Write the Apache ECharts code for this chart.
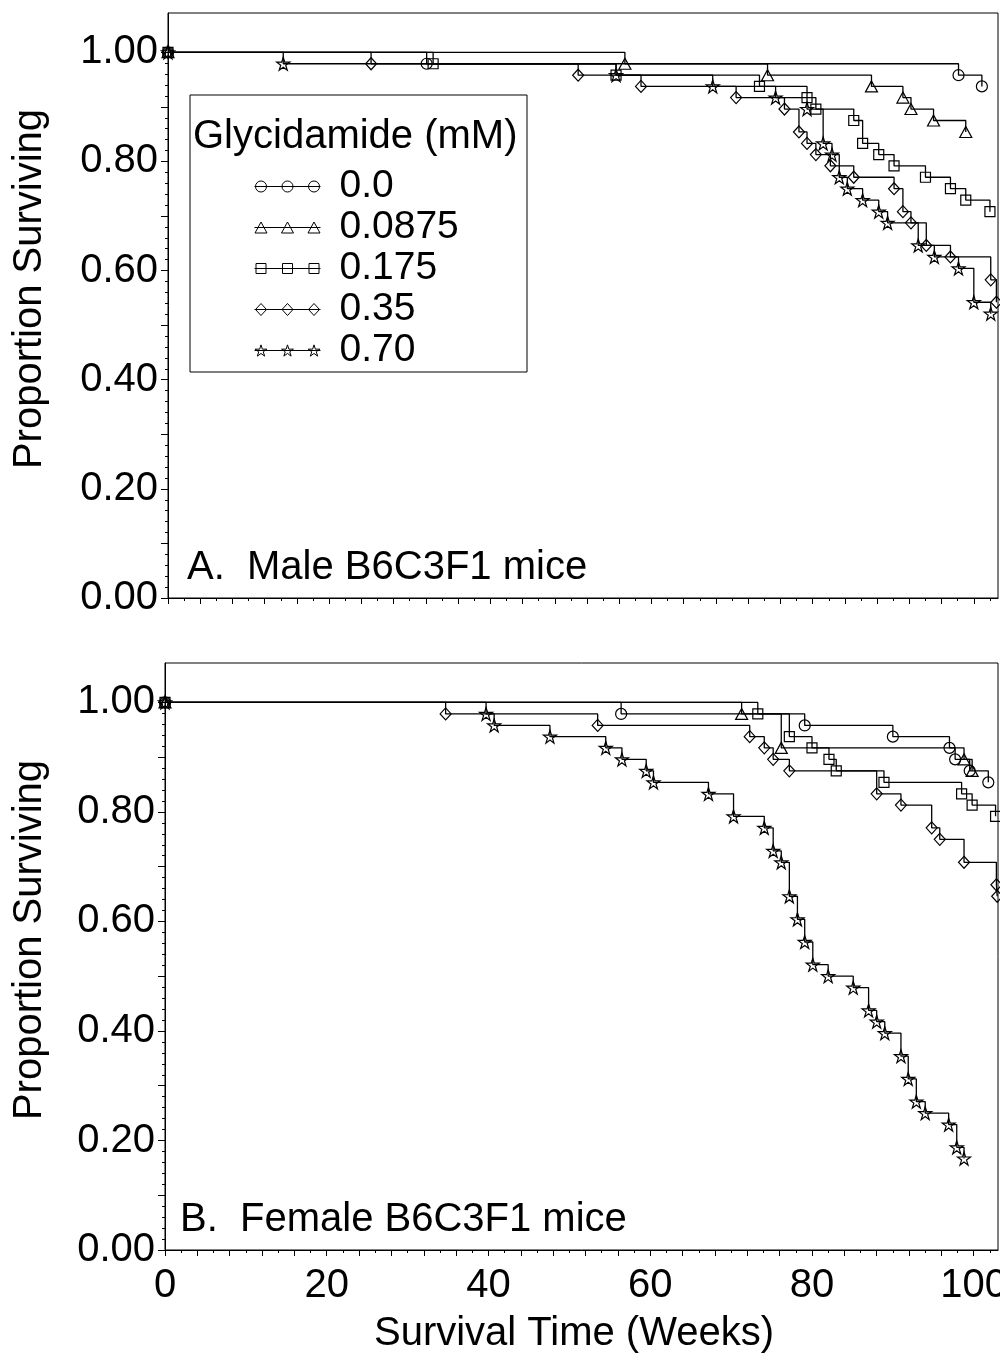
<!DOCTYPE html>
<html><head><meta charset="utf-8">
<script src="https://cdn.jsdelivr.net/npm/echarts@6/dist/echarts.min.js"></script>
<style>html,body{margin:0;padding:0;background:#fff}#c{width:1000px;height:1357px}</style>
</head><body><div id="c"></div><script>
// ---- labels ----
const doseLabels = ['0.0', '0.0875', '0.175', '0.35', '0.70'];
const xTickLabels = [0, 20, 40, 60, 80, 100];
const yTickLabels = [0, 0.2, 0.4, 0.6, 0.8, 1.0];

// ---- A. Male B6C3F1 mice ----
const male_0_weeks = [0, 32.1, 98.1, 101.0];
const male_0_surv = [1, 0.979, 0.958, 0.9375];
const male_00875_weeks = [0, 56.7, 74.4, 87.3, 91.2, 92.2, 95.0, 99.0];
const male_00875_surv = [1, 0.979, 0.958, 0.9375, 0.917, 0.896, 0.875, 0.854];
const male_0175_weeks = [0, 32.9, 55.6, 73.4, 79.3, 80.4, 85.1, 86.2, 88.2, 90.1, 94.0, 97.1, 99.0, 102.0];
const male_0175_surv = [1, 0.979, 0.958, 0.9375, 0.917, 0.896, 0.875, 0.833, 0.8125, 0.792, 0.771, 0.75, 0.729, 0.708];
const male_035_weeks = [0, 25.2, 50.9, 58.7, 70.5, 76.5, 78.3, 79.3, 80.4, 82.2, 85.1, 90.1, 91.2, 92.2, 94.1, 97.1, 102.1, 102.8];
const male_035_surv = [1, 0.979, 0.958, 0.9375, 0.917, 0.896, 0.854, 0.833, 0.8125, 0.792, 0.771, 0.75, 0.708, 0.6875, 0.646, 0.625, 0.583, 0.542];
const male_070_weeks = [0, 14.3, 55.6, 67.6, 75.4, 79.3, 81.3, 82.4, 83.3, 84.3, 86.2, 88.2, 89.3, 93.1, 95.1, 98.1, 100.0, 102.1];
const male_070_surv = [1, 0.979, 0.958, 0.9375, 0.917, 0.896, 0.833, 0.8125, 0.771, 0.75, 0.729, 0.708, 0.6875, 0.646, 0.625, 0.604, 0.542, 0.521];

// ---- B. Female B6C3F1 mice ----
const female_0_weeks = [0, 56.4, 79.1, 90.0, 97.0, 97.7, 99.5, 101.8];
const female_0_surv = [1, 0.979, 0.958, 0.9375, 0.917, 0.896, 0.875, 0.854];
const female_00875_weeks = [0, 71.3, 76.2, 98.8, 99.8];
const female_00875_surv = [1, 0.979, 0.917, 0.896, 0.875];
const female_0175_weeks = [0, 73.3, 77.2, 80.0, 82.1, 83.0, 88.9, 98.5, 99.8, 102.7];
const female_0175_surv = [1, 0.979, 0.9375, 0.917, 0.896, 0.875, 0.854, 0.833, 0.8125, 0.792];
const female_035_weeks = [0, 34.7, 53.5, 72.3, 74.1, 75.2, 77.2, 88.0, 91.0, 94.8, 95.8, 98.8, 102.8, 102.9];
const female_035_surv = [1, 0.979, 0.958, 0.9375, 0.917, 0.896, 0.875, 0.833, 0.8125, 0.771, 0.75, 0.708, 0.667, 0.646];
const female_070_weeks = [0, 39.7, 40.7, 47.6, 54.5, 56.5, 59.5, 60.4, 67.2, 70.3, 74.1, 75.2, 76.2, 77.2, 78.2, 79.1, 80.1, 82.0, 85.1, 87.0, 88.0, 89.0, 91.0, 91.9, 92.9, 94.0, 96.9, 97.9, 98.8];
const female_070_surv = [1, 0.979, 0.958, 0.9375, 0.917, 0.896, 0.875, 0.854, 0.833, 0.792, 0.771, 0.729, 0.708, 0.646, 0.604, 0.5625, 0.521, 0.5, 0.479, 0.4375, 0.417, 0.396, 0.354, 0.3125, 0.271, 0.25, 0.229, 0.1875, 0.167];

const maleCurves = [[male_0_weeks, male_0_surv], [male_00875_weeks, male_00875_surv], [male_0175_weeks, male_0175_surv], [male_035_weeks, male_035_surv], [male_070_weeks, male_070_surv]];
const femaleCurves = [[female_0_weeks, female_0_surv], [female_00875_weeks, female_00875_surv], [female_0175_weeks, female_0175_surv], [female_035_weeks, female_035_surv], [female_070_weeks, female_070_surv]];

// ---- styling ----
const FONT = 'Liberation Sans, Arial, Helvetica, sans-serif';
const STAR = 'path://M0,-10L2.245,-3.09L9.511,-3.09L3.633,1.18L5.878,8.09L0,3.82L-5.878,8.09L-3.633,1.18L-9.511,-3.09L-2.245,-3.09Z';
const symbols = ['circle', 'triangle', 'rect', 'diamond', STAR];
const symbolSizes = [11, [12, 11], 10, [11, 12], 13];

function iconShape(kind, cx) {
  if (kind === 0) return `M${cx-5.5},7A5.5,5.5,0,1,0,${cx+5.5},7A5.5,5.5,0,1,0,${cx-5.5},7Z`;
  if (kind === 1) return `M${cx-6},12.5L${cx},1.5L${cx+6},12.5Z`;
  if (kind === 2) return `M${cx-5},2L${cx+5},2L${cx+5},12L${cx-5},12Z`;
  if (kind === 3) return `M${cx},1L${cx+5.5},7L${cx},13L${cx-5.5},7Z`;
  const pts = [[0,-10],[2.245,-3.09],[9.511,-3.09],[3.633,1.18],[5.878,8.09],[0,3.82],[-5.878,8.09],[-3.633,1.18],[-9.511,-3.09],[-2.245,-3.09]];
  return 'M' + pts.map(p => `${(cx + p[0]*0.62).toFixed(2)},${(7.6 + p[1]*0.62).toFixed(2)}`).join('L') + 'Z';
}
function legendIcon(kind) {
  return 'path://M0,7L66,7' + [6.5, 33, 59.5].map(cx => iconShape(kind, cx)).join('');
}

const grids = [
  { left: 168, right: 2, top: 13, height: 585 },
  { left: 165, right: 2, top: 663, height: 587 }
];
const X_MAX = 103, Y_MAX = 1.072;
const xMajor = [], xMinor = [], yMajor = [], yMinor = [];
for (let w = 0; w <= 102; w += 2) (w % 4 === 0 ? xMajor : xMinor).push(w);
for (let k = 0; k <= 50; k++) (k % 5 === 0 ? yMajor : yMinor).push(+(k * 0.02).toFixed(2));

const xAxes = [], yAxes = [];
grids.forEach((g, gi) => {
  xAxes.push({
    type: 'value', gridIndex: gi, min: 0, max: X_MAX, position: 'bottom',
    axisLine: { show: true, onZero: false, lineStyle: { color: '#000', width: 1 } },
    axisTick: { show: true, customValues: xMajor, length: 6, lineStyle: { color: '#000' } },
    axisLabel: { show: gi === 1, customValues: xTickLabels, fontSize: 40, fontFamily: FONT, color: '#000', margin: 16 },
    splitLine: { show: false }
  });
  xAxes.push({
    type: 'value', gridIndex: gi, min: 0, max: X_MAX, position: 'bottom',
    axisLine: { show: false },
    axisTick: { show: true, customValues: xMinor, length: 3, lineStyle: { color: '#000' } },
    axisLabel: { show: false }, splitLine: { show: false }
  });
  yAxes.push({
    type: 'value', gridIndex: gi, min: 0, max: Y_MAX, position: 'left',
    axisLine: { show: true, onZero: false, lineStyle: { color: '#000', width: 1 } },
    axisTick: { show: true, customValues: yMajor, length: 7, lineStyle: { color: '#000' } },
    axisLabel: { show: true, customValues: yTickLabels, formatter: v => v.toFixed(2), fontSize: 40, fontFamily: FONT, color: '#000', margin: 10 },
    splitLine: { show: false }
  });
  yAxes.push({
    type: 'value', gridIndex: gi, min: 0, max: Y_MAX, position: 'left',
    axisLine: { show: false },
    axisTick: { show: true, customValues: yMinor, length: 3, lineStyle: { color: '#000' } },
    axisLabel: { show: false }, splitLine: { show: false }
  });
});

const series = [];
[maleCurves, femaleCurves].forEach((curves, gi) => {
  curves.forEach((c, i) => {
    series.push({
      name: doseLabels[i], type: 'line', step: 'end',
      xAxisIndex: gi * 2, yAxisIndex: gi * 2,
      data: c[0].map((w, j) => [w, c[1][j]]),
      symbol: symbols[i], symbolSize: symbolSizes[i], showAllSymbol: true,
      lineStyle: { color: '#000', width: 1.3 },
      itemStyle: { color: 'rgba(0,0,0,0)', borderColor: '#000', borderWidth: 1.2 },
      emphasis: { disabled: true }, animation: false, z: 3
    });
  });
});

const chart = echarts.init(document.getElementById('c'), null, { renderer: 'canvas' });
chart.setOption({
  backgroundColor: '#fff',
  animation: false,
  grid: grids.map(g => Object.assign({ show: true, borderColor: '#000', borderWidth: 1, backgroundColor: 'rgba(0,0,0,0)', outerBoundsMode: 'none', containLabel: false }, g)),
  xAxis: xAxes,
  yAxis: yAxes,
  legend: {
    orient: 'vertical', left: 254, top: 166, padding: 0,
    itemWidth: 66, itemHeight: 14, itemGap: 0, selectedMode: false,
    data: doseLabels.map((n, i) => ({ name: n, icon: legendIcon(i) })),
    itemStyle: { color: 'rgba(0,0,0,0)', borderColor: '#000', borderWidth: 1 },
    textStyle: { fontSize: 39, lineHeight: 41, color: '#000', fontFamily: FONT, padding: [0, 0, 0, 14] }
  },
  graphic: [
    { type: 'rect', shape: { x: 190, y: 95, width: 337, height: 277 }, style: { fill: 'none', stroke: '#000', lineWidth: 1 }, z: 10 },
    { type: 'text', x: 193, y: 137, style: { text: 'Glycidamide (mM)', fontSize: 40, fontFamily: FONT, fill: '#000', align: 'left', verticalAlign: 'middle', textAlign: 'left', textVerticalAlign: 'middle' }, z: 10 },
    { type: 'text', x: 187, y: 568, style: { text: 'A.  Male B6C3F1 mice', fontSize: 40, fontFamily: FONT, fill: '#000', align: 'left', verticalAlign: 'middle', textAlign: 'left', textVerticalAlign: 'middle' }, z: 10 },
    { type: 'text', x: 180, y: 1220, style: { text: 'B.  Female B6C3F1 mice', fontSize: 40, fontFamily: FONT, fill: '#000', align: 'left', verticalAlign: 'middle', textAlign: 'left', textVerticalAlign: 'middle' }, z: 10 },
    { type: 'text', x: 30, y: 289, rotation: Math.PI / 2, style: { text: 'Proportion Surviving', fontSize: 40, fontFamily: FONT, fill: '#000', align: 'center', verticalAlign: 'middle', textAlign: 'center', textVerticalAlign: 'middle' }, z: 10 },
    { type: 'text', x: 30, y: 940, rotation: Math.PI / 2, style: { text: 'Proportion Surviving', fontSize: 40, fontFamily: FONT, fill: '#000', align: 'center', verticalAlign: 'middle', textAlign: 'center', textVerticalAlign: 'middle' }, z: 10 },
    { type: 'text', x: 574, y: 1334, style: { text: 'Survival Time (Weeks)', fontSize: 40, fontFamily: FONT, fill: '#000', align: 'center', verticalAlign: 'middle', textAlign: 'center', textVerticalAlign: 'middle' }, z: 10 }
  ],
  series: series
});
</script></body></html>
